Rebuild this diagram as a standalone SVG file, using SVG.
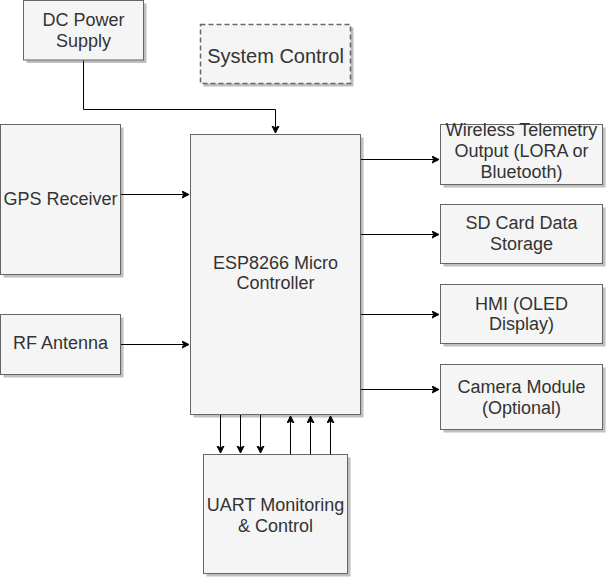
<svg xmlns="http://www.w3.org/2000/svg" width="606" height="578" viewBox="0 0 606 578">
<style>
.box{fill:#f5f5f5;stroke:#666666;stroke-width:1}
.sh{fill:#000000;opacity:0.25}
.dash{fill:#f5f5f5;stroke:#666666;stroke-width:1.5;stroke-dasharray:5 3}
.t{font-family:"Liberation Sans",Arial,sans-serif;font-size:18px;fill:#333333;text-anchor:middle}
.big{font-size:20px}
.c{fill:none;stroke:#000000;stroke-width:1}
</style>
<defs>
<marker id="arr" markerUnits="userSpaceOnUse" markerWidth="10" markerHeight="10" refX="7" refY="4" orient="auto">
<path d="M0,0.5 L7,4 L0,7.5 L1.8,4 Z" fill="#000000" stroke="#000000" stroke-width="1"/>
</marker>
</defs>
<rect width="606" height="578" fill="#ffffff"/>
<g id="connectors">
<path class="c" d="M83.5 60.5 V109.5 H275.5 V133" marker-end="url(#arr)"/>
<path class="c" d="M120.5 194.5 H189" marker-end="url(#arr)"/>
<path class="c" d="M120.5 344.5 H189" marker-end="url(#arr)"/>
<path class="c" d="M360.5 159.5 H439" marker-end="url(#arr)"/>
<path class="c" d="M360.5 234.5 H439" marker-end="url(#arr)"/>
<path class="c" d="M360.5 314.5 H439" marker-end="url(#arr)"/>
<path class="c" d="M360.5 389.5 H439" marker-end="url(#arr)"/>
<path class="c" d="M220.5 414.5 V453" marker-end="url(#arr)"/>
<path class="c" d="M240.5 414.5 V453" marker-end="url(#arr)"/>
<path class="c" d="M260.5 414.5 V453" marker-end="url(#arr)"/>
<path class="c" d="M290.5 454.5 V416" marker-end="url(#arr)"/>
<path class="c" d="M310.5 454.5 V416" marker-end="url(#arr)"/>
<path class="c" d="M330.5 454.5 V416" marker-end="url(#arr)"/>
</g>
<g id="dc-power">
<rect class="sh" x="26.5" y="3.5" width="120" height="59.5"/>
<rect class="box" x="23.5" y="0.5" width="120" height="59.5"/>
<text class="t" x="83.5" y="26">DC Power</text>
<text class="t" x="83.5" y="47">Supply</text>
</g>
<g id="system-control">
<rect class="sh" x="203.5" y="27.5" width="150" height="59"/>
<rect class="dash" x="200.5" y="24.5" width="150" height="59"/>
<text class="t big" x="275.5" y="63">System Control</text>
</g>
<g id="gps">
<rect class="sh" x="3.5" y="127.5" width="120" height="150"/>
<rect class="box" x="0.5" y="124.5" width="120" height="150"/>
<text class="t" x="60.5" y="205">GPS Receiver</text>
</g>
<g id="rf-antenna">
<rect class="sh" x="3.5" y="317.5" width="120" height="60"/>
<rect class="box" x="0.5" y="314.5" width="120" height="60"/>
<text class="t" x="60.5" y="349">RF Antenna</text>
</g>
<g id="esp8266">
<rect class="sh" x="193.5" y="137.5" width="170" height="280"/>
<rect class="box" x="190.5" y="134.5" width="170" height="280"/>
<text class="t" x="275.5" y="269">ESP8266 Micro</text>
<text class="t" x="275.5" y="289">Controller</text>
</g>
<g id="wireless">
<rect class="sh" x="443.5" y="127.5" width="162" height="60"/>
<rect class="box" x="440.5" y="124.5" width="162" height="60"/>
<text class="t" x="521.5" y="136">Wireless Telemetry</text>
<text class="t" x="521.5" y="157">Output (LORA or</text>
<text class="t" x="521.5" y="178">Bluetooth)</text>
</g>
<g id="sd-card">
<rect class="sh" x="443.5" y="207.5" width="162" height="59"/>
<rect class="box" x="440.5" y="204.5" width="162" height="59"/>
<text class="t" x="521.5" y="229">SD Card Data</text>
<text class="t" x="521.5" y="250">Storage</text>
</g>
<g id="hmi">
<rect class="sh" x="443.5" y="287.5" width="162" height="59"/>
<rect class="box" x="440.5" y="284.5" width="162" height="59"/>
<text class="t" x="521.5" y="310">HMI (OLED</text>
<text class="t" x="521.5" y="330">Display)</text>
</g>
<g id="camera">
<rect class="sh" x="443.5" y="367.5" width="162" height="65"/>
<rect class="box" x="440.5" y="364.5" width="162" height="65"/>
<text class="t" x="521.5" y="393">Camera Module</text>
<text class="t" x="521.5" y="414">(Optional)</text>
</g>
<g id="uart">
<rect class="sh" x="206.5" y="457.5" width="144" height="119"/>
<rect class="box" x="203.5" y="454.5" width="144" height="119"/>
<text class="t" x="275.5" y="511">UART Monitoring</text>
<text class="t" x="275.5" y="532">&amp; Control</text>
</g>
</svg>
